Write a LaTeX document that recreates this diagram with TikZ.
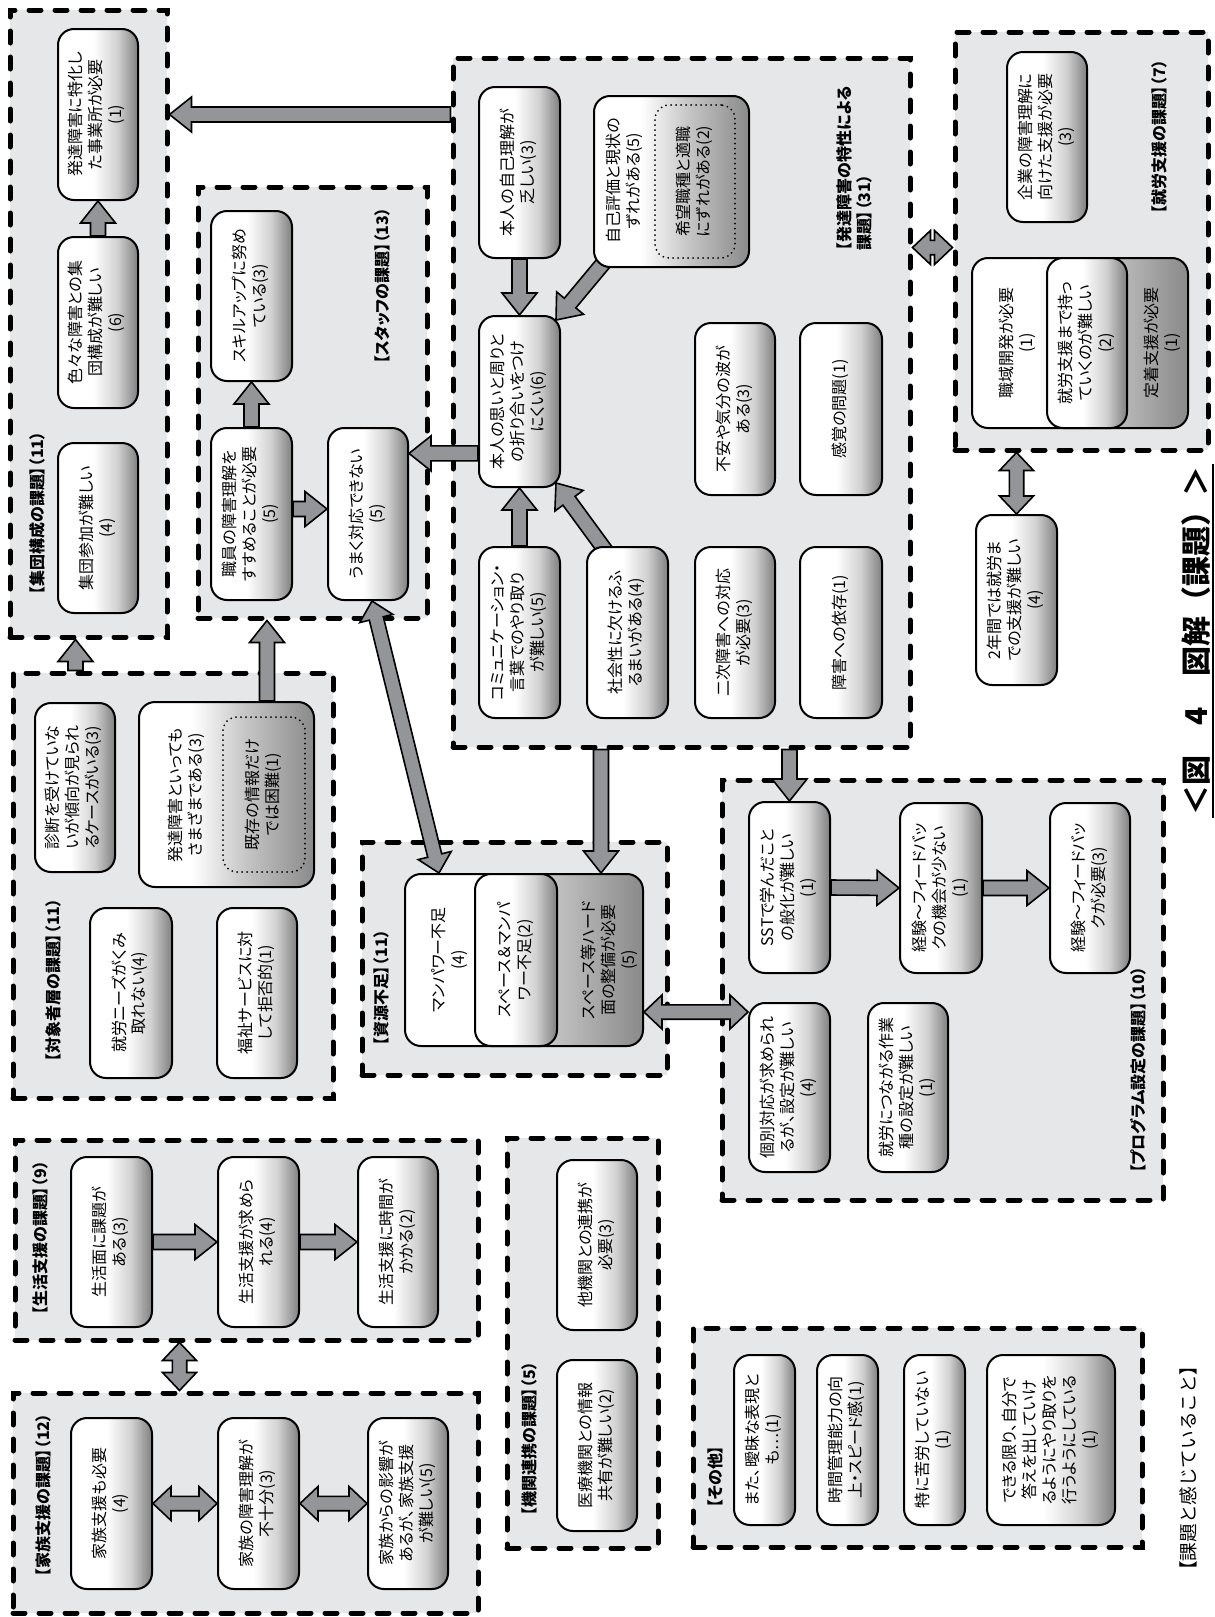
\documentclass[tikz,border=0pt]{standalone}
\usepackage{graphicx}
\usepackage{fontspec}
\setmainfont{Noto Sans CJK JP}[RawFeature=+palt]
\newfontfamily\jpfull{Noto Sans CJK JP}
\usetikzlibrary{calc}
\pgfdeclarelayer{bg}
\pgfdeclarelayer{arr}
\pgfsetlayers{bg,arr,main}
\definecolor{grpfill}{HTML}{E6E7E8}
\definecolor{arrfill}{HTML}{939598}
\pgfdeclarehorizontalshading{boxshade}{100bp}{color(0bp)=(white); color(25bp)=(white); color(47bp)=(white); color(62bp)=(black!18); color(75bp)=(black!50); color(100bp)=(black!50)}
\pgfdeclarehorizontalshading{wideshade}{100bp}{color(0bp)=(white); color(25bp)=(white); color(40bp)=(white); color(55bp)=(black!22); color(75bp)=(black!46); color(100bp)=(black!46)}
\tikzset{
  grp/.style={draw=black, fill=grpfill, line width=2.5pt, dash pattern=on 6pt off 7pt, line cap=round, inner sep=0pt},
  bx/.style={draw=black, line width=1pt, rounded corners=8pt, shade, shading=boxshade, inner sep=0pt, font=\fontsize{8}{10}\selectfont},
  widebx/.style={draw=black, line width=1pt, rounded corners=8pt, shade, shading=wideshade, inner sep=0pt},
  dotbox/.style={draw=black, line width=1pt, dash pattern=on 0pt off 2.5pt, line cap=round, rounded corners=7pt, inner sep=0pt, font=\fontsize{8}{10}\selectfont},
  lbl/.style={rotate=90, font=\bfseries\fontsize{8}{10}\selectfont, inner sep=0pt},
  txt/.style={rotate=90, font=\fontsize{8}{10}\selectfont, align=center, inner sep=0pt},
  fat/.style={draw=black, line width=0.8pt, fill=arrfill, line join=miter},
}
% box with rotated text: name, x1, y1, x2, y2, text
\newcommand\mybox[7][bx]{\node[#1, minimum width={(#5-#3)*0.5pt}, minimum height={(#6-#4)*0.5pt}] (#2) at ({(#3+#5)/2},{(#4+#6)/2}) {\rotatebox{90}{\begin{tabular}{@{}c@{}}#7\end{tabular}}};}
% empty frame: style, name, x1, y1, x2, y2
\newcommand\myframe[6]{\node[#1, minimum width={(#5-#3)*0.5pt}, minimum height={(#6-#4)*0.5pt}] (#2) at ({(#3+#5)/2},{(#4+#6)/2}) {};}
\newcommand\fatarrow[2]{%
  \coordinate (fah) at ($(#2)!11pt!(#1)$);
  \draw[fat] ($(#1)!3.75pt!90:(#2)$) -- ($(fah)!3.75pt!90:(#2)$) -- ($(fah)!8.75pt!90:(#2)$) -- (#2) -- ($(fah)!8.75pt!-90:(#2)$) -- ($(fah)!3.75pt!-90:(#2)$) -- ($(#1)!3.75pt!-90:(#2)$) -- cycle;}
\newcommand\fatdarrow[2]{%
  \coordinate (fah1) at ($(#1)!9pt!(#2)$);
  \coordinate (fah2) at ($(#2)!9pt!(#1)$);
  \draw[fat] (#1) -- ($(fah1)!8.5pt!90:(#2)$) -- ($(fah1)!3.6pt!90:(#2)$) -- ($(fah2)!3.6pt!-90:(#1)$) -- ($(fah2)!8.5pt!-90:(#1)$) -- (#2) -- ($(fah2)!8.5pt!90:(#1)$) -- ($(fah2)!3.6pt!90:(#1)$) -- ($(fah1)!3.6pt!-90:(#2)$) -- ($(fah1)!8.5pt!-90:(#2)$) -- cycle;}
\begin{document}
\begin{tikzpicture}[x=0.5pt, y=-0.5pt]
\useasboundingbox (0,0) rectangle (1215,1617);
\begin{pgfonlayer}{bg}
\fill[white] (0,0) rectangle (1215,1617);
\myframe{grp}{g1}{10}{10}{167}{637}
\myframe{grp}{g2}{198}{187}{427}{618}
\myframe{grp}{g3}{453}{58}{910}{747}
\myframe{grp}{g4}{955}{32}{1208}{450}
\myframe{grp}{g5}{13}{673}{333}{1098}
\myframe{grp}{g6}{362}{842}{667}{1075}
\myframe{grp}{g7}{722}{780}{1163}{1200}
\myframe{grp}{g8}{15}{1140}{478}{1340}
\myframe{grp}{g9}{13}{1393}{478}{1613}
\myframe{grp}{g10}{507}{1138}{658}{1548}
\myframe{grp}{g11}{693}{1328}{1142}{1547}
\end{pgfonlayer}
% group labels
\node[lbl] (l1) at (37,513) {【集団構成の課題】（11）};
\node[lbl] (l2) at (382,286) {【スタッフの課題】（13）};
\node[lbl, align=left, anchor=north west] (l3) at (836,251) {【発達障害の特性による\\課題】（31）};
\node[lbl] (l4) at (1159,137) {【就労支援の課題】（7）};
\node[lbl] (l5) at (53,980) {【対象者層の課題】（11）};
\node[lbl] (l6) at (381,988) {【資源不足】（11）};
\node[lbl] (l7) at (1138,1070) {【プログラム設定の課題】（10）};
\node[lbl] (l8) at (40,1238) {【生活支援の課題】（9）};
\node[lbl] (l9) at (43,1495) {【家族支援の課題】（12）};
\node[lbl] (l10) at (529,1439) {【機関連携の課題】（5）};
\node[lbl] (l11) at (715,1477) {【その他】};
% boxes
\mybox{tokka}{58}{29}{138}{200}{発達障害に特化し\\た事業所が必要\\(1)}
\mybox{iro}{58}{237}{138}{408}{色々な障害との集\\団構成が難しい\\(6)}
\mybox{sanka}{58}{443}{138}{613}{集団参加が難しい\\(4)}
\mybox{skill}{211}{211}{292}{381}{スキルアップに努め\\ている(3)}
\mybox{shokuin}{211}{428}{292}{600}{職員の障害理解を\\すすめることが必要\\(5)}
\mybox{umaku}{328}{428}{408}{600}{うまく対応できない\\(5)}
\mybox{jiko}{479}{87}{560}{258}{本人の自己理解が\\乏しい(3)}
\myframe{widebx}{hyoka}{594}{96}{749}{267}
\node[txt] (hyokaT) at (624,181) {自己評価と現状の\\ずれがある(5)};
\mybox[dotbox]{kibo}{655}{105}{735}{258}{希望職種と適職\\にずれがある(2)}
\mybox{omoi}{479}{316}{560}{487}{本人の思いと周りと\\の折り合いをつけ\\にくい(6)}
\mybox{fuan}{695}{323}{775}{495}{不安や気分の波が\\ある(3)}
\mybox{kankaku}{800}{323}{882}{495}{感覚の問題(1)}
\mybox{comm}{479}{547}{560}{718}{コミュニケーション・\\言葉でのやり取り\\が難しい(5)}
\mybox{shakai}{587}{547}{668}{718}{社会性に欠けるふ\\るまいがある(4)}
\mybox{niji}{695}{547}{775}{718}{二次障害への対応\\が必要(3)}
\mybox{izon}{800}{547}{882}{718}{障害への依存(1)}
\mybox{kigyo}{1007}{52}{1087}{222}{企業の障害理解に\\向けた支援が必要\\(3)}
\myframe{widebx}{shuroC}{972}{258}{1188}{428}
\mybox{motte}{1047}{258}{1127}{428}{就労支援まで持っ\\ていくのが難しい\\(2)}
\node[txt] (shokuikiT) at (1017,343) {職域開発が必要\\(1)};
\node[txt] (teichakuT) at (1162,343) {定着支援が必要\\(1)};
\mybox{ninen}{976}{515}{1057}{685}{2年間では就労ま\\での支援が難しい\\(4)}
\mybox{shindan}{35}{703}{115}{872}{診断を受けていな\\いが傾向が見られ\\るケースがいる(3)}
\myframe{widebx}{samazama}{139}{702}{314}{887}
\node[txt] (samazamaT) at (186,795) {発達障害といっても\\さまざまである(3)};
\mybox[dotbox]{kison}{223}{717}{305}{872}{既存の情報だけ\\では困難(1)}
\mybox{needs}{90}{908}{172}{1078}{就労ニーズがくみ\\取れない(4)}
\mybox{fukushi}{217}{908}{297}{1078}{福祉サービスに対\\して拒否的(1)}
\myframe{widebx}{shigenC}{405}{874}{643}{1046}
\mybox{spaceman}{475}{874}{557}{1046}{スペース＆マンパ\\ワー不足(2)}
\node[txt] (manT) at (450,960) {マンパワー不足\\(4)};
\node[txt] (hardT) at (609,960) {スペース等ハード\\面の整備が必要\\(5)};
\mybox{sst}{749}{802}{830}{973}{SSTで学んだこと\\の般化が難しい\\(1)}
\mybox{keiken1}{900}{803}{982}{973}{経験～フィードバッ\\クの機会が少ない\\(1)}
\mybox{keiken2}{1050}{803}{1130}{973}{経験～フィードバッ\\クが必要(3)}
\mybox{kobetsu}{749}{1003}{830}{1172}{個別対応が求められ\\るが、設定が難しい\\(4)}
\mybox{sagyo}{868}{1003}{948}{1172}{就労につながる作業\\種の設定が難しい\\(1)}
\mybox{sei1}{71}{1157}{152}{1327}{生活面に課題が\\ある(3)}
\mybox{sei2}{218}{1157}{299}{1327}{生活支援が求めら\\れる(4)}
\mybox{sei3}{358}{1157}{438}{1327}{生活支援に時間が\\かかる(2)}
\mybox{kaz1}{71}{1418}{152}{1589}{家族支援も必要\\(4)}
\mybox{kaz2}{218}{1418}{299}{1589}{家族の障害理解が\\不十分(3)}
\mybox{kaz3}{368}{1418}{448}{1589}{家族からの影響が\\あるが、家族支援\\が難しい(5)}
\mybox{takikan}{557}{1160}{637}{1330}{他機関との連携が\\必要(3)}
\mybox{iryo}{557}{1360}{637}{1531}{医療機関との情報\\共有が難しい(2)}
\mybox{aimai}{734}{1355}{795}{1525}{また、曖昧な表現と\\も…(1)}
\mybox{jikan}{817}{1355}{878}{1525}{時間管理能力の向\\上・スピード感(1)}
\mybox{kuro}{904}{1355}{965}{1525}{特に苦労していない\\(1)}
\mybox{dekiru}{987}{1355}{1115}{1525}{できる限り、自分で\\答えを出していけ\\るようにやり取りを\\行うようにしている\\(1)}
% title and header
\node[rotate=90, font=\jpfull\bfseries\fontsize{15}{18}\selectfont, inner sep=1pt] (title) at (1196,641) {＜図　4　図解（課題）＞};
\draw[line width=1pt] (title.south west) -- (title.south east);
\node[rotate=90, font=\jpfull\fontsize{9.3}{12}\selectfont, inner sep=0pt] (header) at (1188,1468) {【課題と感じていること】};
% arrows
\begin{pgfonlayer}{arr}
\coordinate (a1s) at (g3.west |- tokka.east);
\coordinate (a1e) at (g1.east |- tokka.east);
\fatarrow{a1s}{a1e}
\fatarrow{iro.north}{tokka.south}
\fatarrow{shokuin.north}{skill.south}
\coordinate (a4s) at ($(shokuin.east)+(0,-5)$);
\coordinate (a4e) at (umaku.west |- a4s);
\fatarrow{a4s}{a4e}
\coordinate (a5s) at ($(omoi.south west)!0.2!(omoi.north west)$);
\coordinate (a5e) at (umaku.east |- a5s);
\fatarrow{a5s}{a5e}
\fatarrow{jiko.south}{omoi.north}
\coordinate (a7s) at ($(hyoka.south west)+(13,-8)$);
\coordinate (a7e) at ($(omoi.north east)+(-5,5)$);
\fatarrow{a7s}{a7e}
\fatarrow{comm.north}{omoi.south}
\coordinate (a9s) at ($(shakai.north west)+(22,8)$);
\coordinate (a9e) at ($(omoi.south east)+(-5,-5)$);
\fatarrow{a9s}{a9e}
\coordinate (a10e) at ($(shigenC.north west)+(197,0)$);
\coordinate (a10s) at (a10e |- g3.south);
\fatarrow{a10s}{a10e}
\coordinate (a11s) at (sst.north |- g3.south);
\fatarrow{a11s}{sst.north}
\coordinate (a12s) at ($(umaku.south)+(4,0)$);
\coordinate (a12e) at ($(shigenC.north west)+(35,0)$);
\fatdarrow{a12s}{a12e}
\coordinate (a13s) at ($(shigenC.north east)+(0,139)$);
\coordinate (a13e) at (kobetsu.west |- a13s);
\fatdarrow{a13s}{a13e}
\fatarrow{sst.east}{keiken1.west}
\fatarrow{keiken1.east}{keiken2.west}
\coordinate (a16s) at ($(g3.north east)+(0,192)$);
\coordinate (a16e) at (g4.west |- a16s);
\fatdarrow{a16s}{a16e}
\coordinate (a17s) at (ninen.north |- g4.south);
\fatdarrow{a17s}{ninen.north}
\fatarrow{sei1.east}{sei2.west}
\fatarrow{sei2.east}{sei3.west}
\fatdarrow{kaz1.east}{kaz2.west}
\fatdarrow{kaz2.east}{kaz3.west}
\coordinate (a22s) at ($(g8.south west)+(167,0)$);
\coordinate (a22e) at (a22s |- g9.north);
\fatdarrow{a22s}{a22e}
\coordinate (a23s) at ($(g5.north west)+(65,0)$);
\coordinate (a23e) at (a23s |- g1.south);
\fatarrow{a23s}{a23e}
\coordinate (a24s) at ($(samazama.north west)+(129,0)$);
\coordinate (a24e) at (a24s |- g2.south);
\fatarrow{a24s}{a24e}
\end{pgfonlayer}
\end{tikzpicture}
\end{document}
